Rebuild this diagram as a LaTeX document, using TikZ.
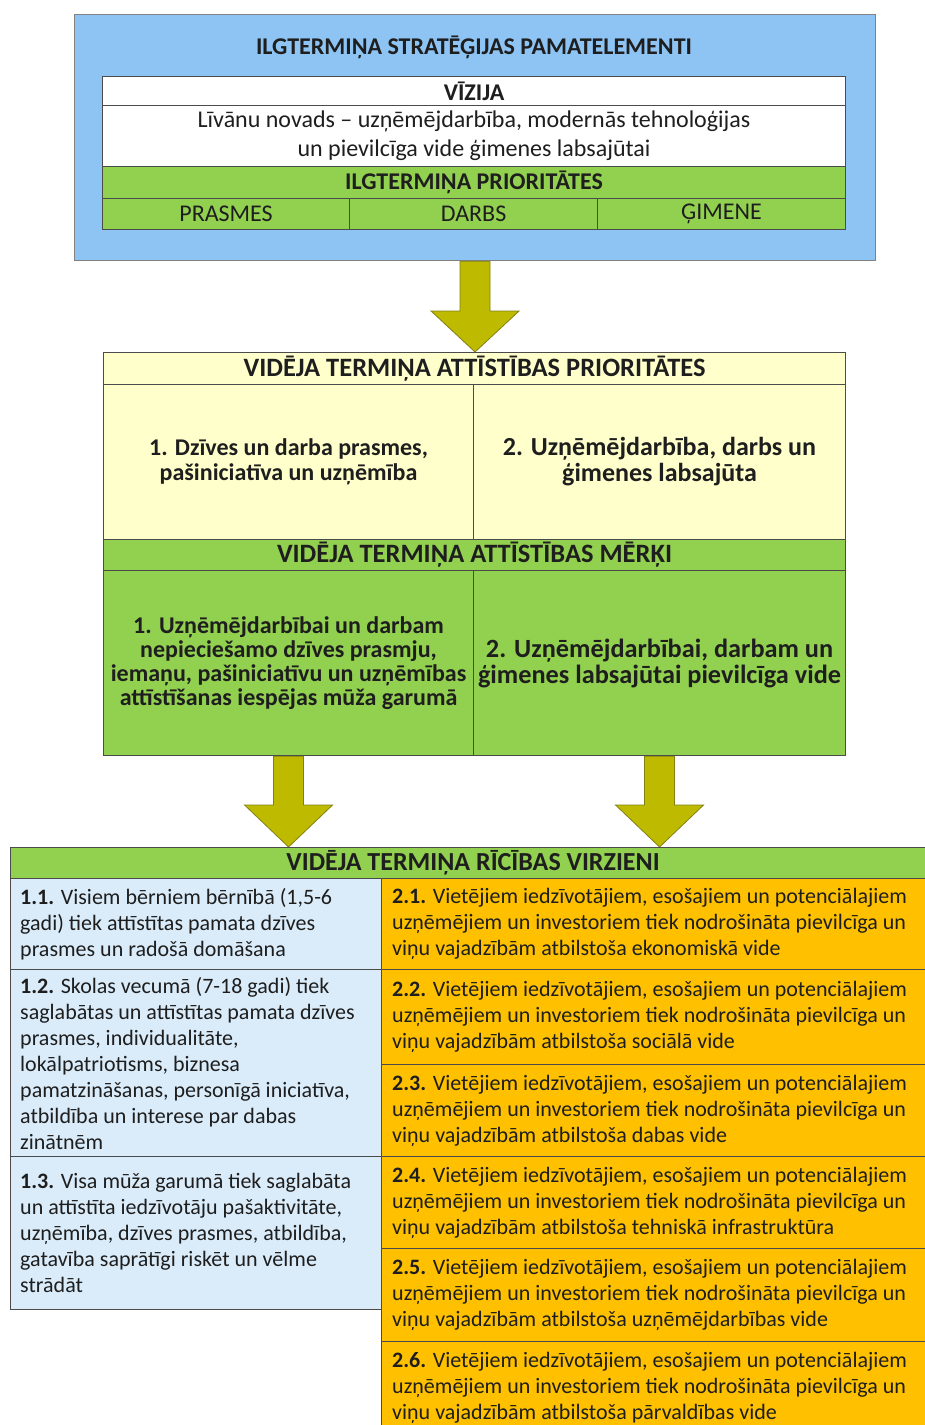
\documentclass[tikz,border=0pt]{standalone}
\usepackage{fontspec}
\setmainfont{Carlito}
\usetikzlibrary{calc}
\definecolor{topblue}{RGB}{141,196,244}
\definecolor{grn}{RGB}{146,208,80}
\definecolor{lyel}{RGB}{255,255,204}
\definecolor{lblue}{RGB}{218,236,250}
\definecolor{orng}{RGB}{255,192,0}
\definecolor{arrowfill}{RGB}{190,186,0}
\definecolor{arrowline}{RGB}{130,128,20}
\definecolor{edge}{RGB}{75,75,75}
\definecolor{txt}{RGB}{30,30,30}
\pgfdeclarelayer{bg}
\pgfsetlayers{bg,main}
\begin{document}
\begin{tikzpicture}[x=1pt,y=-1pt,
  cell/.style={draw=edge, line width=1.1pt, inner sep=0pt, anchor=north west, text=txt, align=center},
  para/.style={inner sep=0pt, anchor=west, align=left, text=txt, font=\fontsize{22}{26}\selectfont},
  hdr/.style={font=\bfseries\fontsize{24}{28}\selectfont},
  bighdr/.style={font=\bfseries\fontsize{26.5}{30}\selectfont},
  fatarrow/.style={fill=arrowfill, draw=arrowline, line width=0.8pt, line join=miter}]
\useasboundingbox (0,0) rectangle (925,1425);

% ---------- top block ----------
\node[cell, fill=topblue, draw=edge!70, minimum width=801, minimum height=246] (top) at (74,14) {};
\node[hdr, text=txt, inner sep=0pt] (toptitle) at (474,47) {ILGTERMIŅA STRATĒĢIJAS PAMATELEMENTI};
\node[cell, fill=white, minimum width=743, minimum height=29, hdr] (viz) at (102,76) {VĪZIJA};
\node[cell, fill=white, minimum width=743, minimum height=61, font=\fontsize{24}{29}\selectfont] (vizt) at (102,105)
  {Līvānu novads – uzņēmējdarbība, modernās tehnoloģijas\\un pievilcīga vide ģimenes labsajūtai};
\node[cell, fill=grn, minimum width=743, minimum height=32, hdr] (ilgp) at (102,166) {ILGTERMIŅA PRIORITĀTES};
\node[cell, fill=grn, minimum width=247, minimum height=31, font=\fontsize{24}{28}\selectfont] (pr1) at (102,198) {PRASMES};
\node[cell, fill=grn, minimum width=248, minimum height=31, font=\fontsize{24}{28}\selectfont] (pr2) at (349,198) {DARBS};
\node[cell, fill=grn, minimum width=248, minimum height=31, font=\fontsize{24}{28}\selectfont] (pr3) at (597,198) {ĢIMENE};

% ---------- middle block ----------
\node[cell, fill=lyel, minimum width=742, minimum height=32, bighdr] (vp) at (103,352) {VIDĒJA TERMIŅA ATTĪSTĪBAS PRIORITĀTES};
\node[cell, fill=lyel, minimum width=370, minimum height=155, font=\bfseries\fontsize{24}{25}\selectfont] (vp1) at (103,384)
  {1. Dzīves un darba prasmes,\\pašiniciatīva un uzņēmība};
\node[cell, fill=lyel, minimum width=372, minimum height=155, font=\bfseries\fontsize{26}{26}\selectfont] (vp2) at (473,384)
  {2. Uzņēmējdarbība, darbs un\\ģimenes labsajūta};
\node[cell, fill=grn, minimum width=742, minimum height=31, bighdr] (vm) at (103,539) {VIDĒJA TERMIŅA ATTĪSTĪBAS MĒRĶI};
\node[cell, fill=grn, minimum width=370, minimum height=185, font=\bfseries\fontsize{24}{24}\selectfont] (vm1) at (103,570)
  {1. Uzņēmējdarbībai un darbam\\nepieciešamo dzīves prasmju,\\iemaņu, pašiniciatīvu un uzņēmības\\attīstīšanas iespējas mūža garumā};
\node[cell, fill=grn, minimum width=372, minimum height=185, font=\bfseries\fontsize{26.3}{26}\selectfont] (vm2) at (473,570)
  {2. Uzņēmējdarbībai, darbam un\\ģimenes labsajūtai pievilcīga vide};

% ---------- bottom block ----------
\node[cell, fill=grn, minimum width=925, minimum height=31, bighdr, font=\bfseries\fontsize{26}{30}\selectfont] (rv) at (10,847) {VIDĒJA TERMIŅA RĪCĪBAS VIRZIENI};

\node[cell, fill=lblue, minimum width=371, minimum height=91] (c11) at (10,878) {};
\node[cell, fill=lblue, minimum width=371, minimum height=187] (c12) at (10,969) {};
\node[cell, fill=lblue, minimum width=371, minimum height=153] (c13) at (10,1156) {};
\node[para] (c11t) at ($(c11.west)+(10,0)$) {\textbf{1.1.} Visiem bērniem bērnībā (1,5-6\\gadi) tiek attīstītas pamata dzīves\\prasmes un radošā domāšana};
\node[para] (c12t) at ($(c12.west)+(10,0)$) {\textbf{1.2.} Skolas vecumā (7-18 gadi) tiek\\saglabātas un attīstītas pamata dzīves\\prasmes, individualitāte,\\lokālpatriotisms, biznesa\\pamatzināšanas, personīgā iniciatīva,\\atbildība un interese par dabas\\zinātnēm};
\node[para] (c13t) at ($(c13.west)+(10,0)$) {\textbf{1.3.} Visa mūža garumā tiek saglabāta\\un attīstīta iedzīvotāju pašaktivitāte,\\uzņēmība, dzīves prasmes, atbildība,\\gatavība saprātīgi riskēt un vēlme\\strādāt};

\node[cell, fill=orng, minimum width=550, minimum height=91] (c21) at (381,878) {};
\node[cell, fill=orng, minimum width=550, minimum height=95] (c22) at (381,969) {};
\node[cell, fill=orng, minimum width=550, minimum height=92] (c23) at (381,1064) {};
\node[cell, fill=orng, minimum width=550, minimum height=92] (c24) at (381,1156) {};
\node[cell, fill=orng, minimum width=550, minimum height=93] (c25) at (381,1248) {};
\node[cell, fill=orng, minimum width=550, minimum height=92] (c26) at (381,1341) {};
\node[para] (c21t) at ($(c21.west)+(11,0)$) {\textbf{2.1.} Vietējiem iedzīvotājiem, esošajiem un potenciālajiem\\uzņēmējiem un investoriem tiek nodrošināta pievilcīga un\\viņu vajadzībām atbilstoša ekonomiskā vide};
\node[para] (c22t) at ($(c22.west)+(11,0)$) {\textbf{2.2.} Vietējiem iedzīvotājiem, esošajiem un potenciālajiem\\uzņēmējiem un investoriem tiek nodrošināta pievilcīga un\\viņu vajadzībām atbilstoša sociālā vide};
\node[para] (c23t) at ($(c23.west)+(11,0)$) {\textbf{2.3.} Vietējiem iedzīvotājiem, esošajiem un potenciālajiem\\uzņēmējiem un investoriem tiek nodrošināta pievilcīga un\\viņu vajadzībām atbilstoša dabas vide};
\node[para] (c24t) at ($(c24.west)+(11,0)$) {\textbf{2.4.} Vietējiem iedzīvotājiem, esošajiem un potenciālajiem\\uzņēmējiem un investoriem tiek nodrošināta pievilcīga un\\viņu vajadzībām atbilstoša tehniskā infrastruktūra};
\node[para] (c25t) at ($(c25.west)+(11,0)$) {\textbf{2.5.} Vietējiem iedzīvotājiem, esošajiem un potenciālajiem\\uzņēmējiem un investoriem tiek nodrošināta pievilcīga un\\viņu vajadzībām atbilstoša uzņēmējdarbības vide};
\node[para] (c26t) at ($(c26.west)+(11,0)$) {\textbf{2.6.} Vietējiem iedzīvotājiem, esošajiem un potenciālajiem\\uzņēmējiem un investoriem tiek nodrošināta pievilcīga un\\viņu vajadzībām atbilstoša pārvaldības vide};

% ---------- arrows ----------
\begin{pgfonlayer}{bg}
\fill[white] (0,0) rectangle (925,1425);
\draw[fatarrow] let \p1=(top.south), \p2=(top.south |- vp.north) in
  (\x1-15pt,\y1) -- (\x1-15pt,\y2+41pt) -- (\x1-44pt,\y2+41pt) -- (\x2,\y2)
  -- (\x1+44pt,\y2+41pt) -- (\x1+15pt,\y2+41pt) -- (\x1+15pt,\y1) -- cycle;
\draw[fatarrow] let \p1=(vm1.south), \p2=(vm1.south |- rv.north) in
  (\x1-15pt,\y1) -- (\x1-15pt,\y2+42pt) -- (\x1-44pt,\y2+42pt) -- (\x2,\y2)
  -- (\x1+44pt,\y2+42pt) -- (\x1+15pt,\y2+42pt) -- (\x1+15pt,\y1) -- cycle;
\draw[fatarrow] let \p1=(vm2.south), \p2=(vm2.south |- rv.north) in
  (\x1-15pt,\y1) -- (\x1-15pt,\y2+42pt) -- (\x1-44pt,\y2+42pt) -- (\x2,\y2)
  -- (\x1+44pt,\y2+42pt) -- (\x1+15pt,\y2+42pt) -- (\x1+15pt,\y1) -- cycle;
\end{pgfonlayer}
\end{tikzpicture}
\end{document}
